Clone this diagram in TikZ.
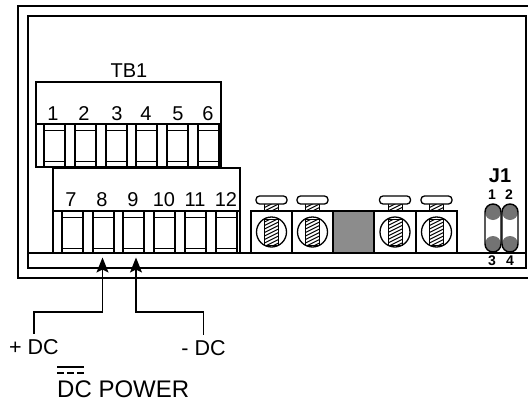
\documentclass[tikz,border=0pt]{standalone}
\usepackage{fontspec}
\setmainfont{Liberation Sans}
\usetikzlibrary{arrows.meta}
\tikzset{
  blockbox/.style = {rectangle, draw=black, line width=1.3pt, inner sep=0pt, outer sep=0pt,
    minimum width=185pt, minimum height=85pt},
  termbox/.style = {rectangle, draw=black, line width=1.2pt, inner sep=0pt, outer sep=0pt,
    minimum width=21pt, minimum height=42pt},% terminal opening
  num/.style = {inner sep=0pt, font=\fontsize{20}{22}\selectfont},
  pin/.style = {inner sep=0pt, font=\fontsize{14}{15}\selectfont\bfseries},
  dclabel/.style = {anchor=base, inner sep=0pt, outer ysep=5pt, font=\fontsize{21.5}{23}\selectfont},
  screwbox/.style = {rectangle, draw=black, line width=1.3pt, inner sep=0pt, outer sep=0pt,
    minimum width=41pt, minimum height=42pt},
  hatchbox/.style = {rectangle, draw=black, line width=1pt, inner sep=0pt,
    minimum width=14pt, minimum height=26pt,
    path picture={
      \foreach \k in {-18,-14.5,...,18}
        \draw[line width=1pt] ([yshift=\k pt]path picture bounding box.center) +(-10,5) -- +(10,-5);
    }},
  jumper/.style = {rectangle, rounded corners=8pt, draw=black, line width=1.4pt, inner sep=0pt,
    minimum width=16pt, minimum height=48pt,
    path picture={
      \fill[black!55] ([yshift=-8pt]path picture bounding box.north) circle (8pt);
      \fill[black!55] ([yshift=8pt]path picture bounding box.south) circle (8pt);
    }},
  wire/.style = {line width=1.3pt}
}
\begin{document}
\begin{tikzpicture}[x=1pt,y=-1pt,>={Stealth[length=15pt,width=12pt,inset=3pt]}]
\useasboundingbox (0,0) rectangle (528,402);
% case
\draw[line width=1.3pt] (528,6) -- (18,6) -- (18,278) -- (528,278);
\draw[line width=1.7pt] (28,16) rectangle (526,268);
\draw[line width=1.3pt] (28,253) -- (526,253);
% terminal blocks
\node [blockbox] (upperblock) at (128.5,124.5) {};
\node [blockbox, minimum width=187pt] (lowerblock) at (146.5,210.5) {};
\draw[line width=1.3pt] (36,124) -- (221,124);
\draw[line width=1.3pt] (53,211) -- (240,211);
\node [num] (tbone) at (129,71) {TB1};
\foreach \n/\cx/\lx in {1/54.5/53,2/85.5/84,3/116.5/117,4/146.5/146,5/177.5/178,6/208.5/208}{
  \node [termbox] (t\n) at (\cx,145.5) {};
  \node [num] (n\n) at (\lx,114) {\n};
  \draw[line width=1.1pt] ([yshift=-6pt]t\n.north west) -- ([yshift=-6pt]t\n.north east);
  \draw[line width=1.1pt] ([yshift=5pt]t\n.south west) -- ([yshift=5pt]t\n.south east);
}
\foreach \n/\cx/\lx in {7/72.5/71,8/103.5/102,9/133.5/133,10/164.5/164,11/195.5/195,12/226.5/226}{
  \node [termbox] (t\n) at (\cx,232.5) {};
  \node [num] (n\n) at (\lx,200) {\n};
  \draw[line width=1.1pt] ([yshift=-6pt]t\n.north west) -- ([yshift=-6pt]t\n.north east);
  \draw[line width=1.1pt] ([yshift=5pt]t\n.south west) -- ([yshift=5pt]t\n.south east);
}
% screw clamps
\foreach \s/\cx in {a/271.5,b/312.5,c/395,d/436.5}{
  \node [screwbox] (clamp\s) at (\cx,232) {};
  \node [circle, draw=black, line width=1.3pt, minimum size=30pt, inner sep=0pt] (hole\s) at (clamp\s) {};
  \node [hatchbox] (thread\s) at (clamp\s) {};
  \node [hatchbox, minimum height=9pt] (shaft\s) at (\cx,207) {};
  \node [rectangle, rounded corners=3.5pt, draw=black, fill=white, line width=1.3pt, inner sep=0pt,
    minimum width=31pt, minimum height=8pt] (head\s) at (\cx,200) {};
}
\node [screwbox, fill=black!45] (blank) at (353.5,232) {};
% jumper
\node [inner sep=0pt, font=\fontsize{20}{22}\selectfont\bfseries] (jone) at (500,176) {J1};
\node [jumper] (jleft) at (493,228) {};
\node [jumper] (jright) at (510,228) {};
\node [pin] (pone) at (492,195) {1};
\node [pin] (ptwo) at (509,195) {2};
\node [pin] (pthree) at (492,261) {3};
\node [pin] (pfour) at (510,261) {4};
% power leads
\node [dclabel] (plusdc) at (34,354) {+ DC};
\node [dclabel] (minusdc) at (203.5,355) {- DC};
\node [anchor=base west, inner sep=0pt, font=\fontsize{24}{26}\selectfont] (dcpower) at (57,397) {DC POWER};
\coordinate (bendplus) at (34,312);
\coordinate (bendminus) at (203.5,312);
\draw[wire,->,shorten >=4pt] (plusdc.north) -- (bendplus) -| ([xshift=-1pt]t8.south);
\draw[wire,->,shorten >=4pt] (minusdc.north) -- (bendminus) -| ([xshift=2.5pt]t9.south);
% dc symbol
\draw[line width=1.3pt] (57,367) -- (84,367);
\draw[line width=1.3pt,dash pattern=on 7pt off 3pt] (57,373) -- (84,373);
\end{tikzpicture}
\end{document}
